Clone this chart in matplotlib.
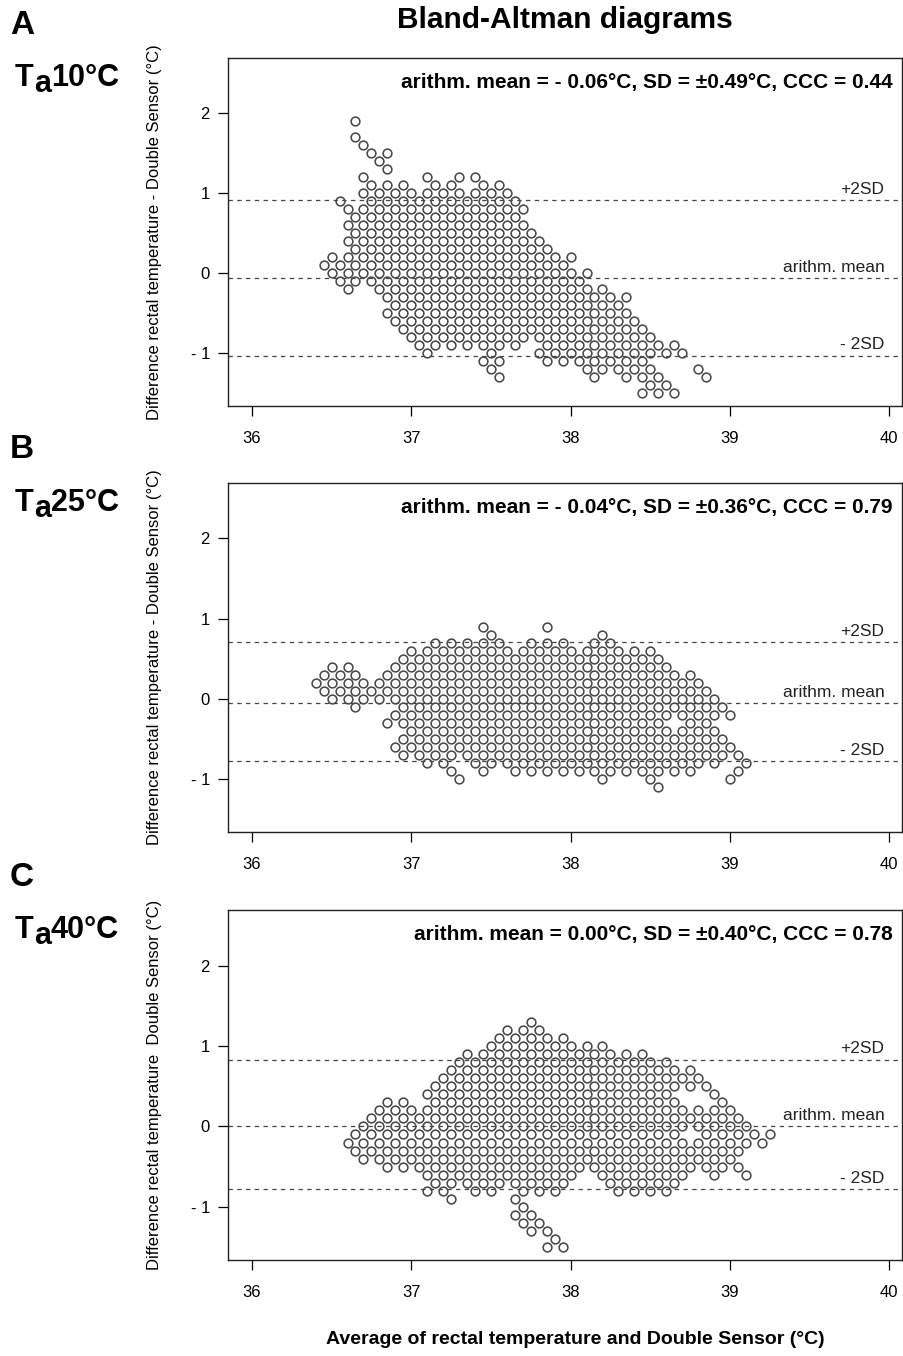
import matplotlib.pyplot as plt
import numpy as np

plt.rcParams['font.family'] = ['Liberation Sans', 'DejaVu Sans']

# Each row of a panel: one difference level (°C) and the runs of
# mean temperatures found on it, (first, last) in 0.1 °C steps.
a_levels = [1.9, 1.7, 1.6, 1.5, 1.4, 1.3, 1.2, 1.1, 1.0, 0.9, 0.8, 0.7, 0.6, 0.5,
            0.4, 0.3, 0.2, 0.1, 0.0, -0.1, -0.2, -0.3, -0.4, -0.5, -0.6, -0.7,
            -0.8, -0.9, -1.0, -1.1, -1.2, -1.3, -1.4, -1.5]
a_runs = [
    [(36.65, 36.65)], [(36.65, 36.65)], [(36.70, 36.70)], [(36.75, 36.85)],
    [(36.80, 36.80)], [(36.85, 36.85)],
    [(36.70, 36.70), (37.10, 37.10), (37.30, 37.40)],
    [(36.75, 36.95), (37.15, 37.25), (37.45, 37.55)],
    [(36.70, 37.60)], [(36.55, 36.55), (36.75, 37.65)],
    [(36.60, 37.70)], [(36.65, 37.65)], [(36.60, 37.70)], [(36.65, 37.75)],
    [(36.60, 37.80)], [(36.65, 37.85)], [(36.50, 38.00)], [(36.45, 37.95)],
    [(36.50, 38.10)], [(36.55, 38.05)], [(36.60, 36.60), (36.80, 38.20)],
    [(36.85, 38.35)], [(36.90, 38.30)], [(36.85, 38.35)], [(36.90, 38.40)],
    [(36.95, 38.45)], [(37.00, 38.50)], [(37.05, 37.65), (37.85, 38.65)],
    [(37.10, 37.10), (37.50, 37.50), (37.80, 38.70)],
    [(37.45, 37.55), (37.85, 38.45)],
    [(37.50, 37.50), (38.10, 38.50), (38.80, 38.80)],
    [(37.55, 37.55), (38.15, 38.15), (38.35, 38.55), (38.85, 38.85)],
    [(38.50, 38.60)], [(38.45, 38.65)],
]

b_levels = [0.9, 0.8, 0.7, 0.6, 0.5, 0.4, 0.3, 0.2, 0.1, 0.0, -0.1, -0.2, -0.3,
            -0.4, -0.5, -0.6, -0.7, -0.8, -0.9, -1.0, -1.1]
b_runs = [
    [(37.45, 37.45), (37.85, 37.85)],
    [(37.50, 37.50), (38.20, 38.20)],
    [(37.15, 37.55), (37.75, 37.95), (38.15, 38.25)],
    [(37.00, 38.50)], [(36.95, 38.55)],
    [(36.50, 36.60), (36.90, 38.60)],
    [(36.45, 36.65), (36.85, 38.75)],
    [(36.40, 38.80)], [(36.45, 38.85)], [(36.50, 38.90)],
    [(36.65, 36.65), (36.95, 38.95)],
    [(36.90, 39.00)], [(36.85, 38.55), (38.75, 38.85)],
    [(37.00, 38.90)], [(36.95, 38.95)], [(36.90, 39.00)], [(36.95, 39.05)],
    [(37.10, 37.20), (37.40, 38.90), (39.10, 39.10)],
    [(37.25, 37.25), (37.45, 37.45), (37.65, 37.75), (37.85, 38.45),
     (38.55, 38.75), (39.05, 39.05)],
    [(37.30, 37.30), (38.20, 38.20), (38.50, 38.50), (39.00, 39.00)],
    [(38.55, 38.55)],
]

c_levels = [1.3, 1.2, 1.1, 1.0, 0.9, 0.8, 0.7, 0.6, 0.5, 0.4, 0.3, 0.2, 0.1, 0.0,
            -0.1, -0.2, -0.3, -0.4, -0.5, -0.6, -0.7, -0.8, -0.9, -1.0, -1.1,
            -1.2, -1.3, -1.4, -1.5]
c_runs = [
    [(37.75, 37.75)], [(37.60, 37.80)], [(37.55, 37.95)], [(37.50, 38.20)],
    [(37.35, 38.45)], [(37.30, 38.60)], [(37.25, 38.75)], [(37.20, 38.80)],
    [(37.15, 38.85)], [(37.10, 38.60), (38.90, 38.90)],
    [(36.85, 36.95), (37.15, 38.65), (38.95, 38.95)],
    [(36.80, 39.00)], [(36.75, 39.05)], [(36.70, 39.10)],
    [(36.65, 38.65), (38.85, 39.25)],
    [(36.60, 39.20)], [(36.65, 39.05)], [(36.70, 39.00)], [(36.85, 39.05)],
    [(37.10, 38.00), (38.20, 38.70), (38.90, 38.90), (39.10, 39.10)],
    [(37.15, 37.95), (38.25, 38.65)],
    [(37.10, 37.20), (37.40, 37.50), (37.70, 37.90), (38.30, 38.60)],
    [(37.25, 37.25), (37.65, 37.65)],
    [(37.70, 37.70)], [(37.65, 37.75)], [(37.70, 37.80)], [(37.75, 37.85)],
    [(37.90, 37.90)], [(37.85, 37.95)],
]

# mean and mean +/- 2SD reference lines
a_lines = [0.91, -0.06, -1.03]
b_lines = [0.71, -0.05, -0.78]
c_lines = [0.83, 0.0, -0.78]
line_names = ['+2SD', 'arithm. mean', '- 2SD']

letters = ['A', 'B', 'C']
conditions = ['10°C', '25°C', '40°C']
stats = ['arithm. mean = - 0.06°C, SD = ±0.49°C, CCC = 0.44',
         'arithm. mean = - 0.04°C, SD = ±0.36°C, CCC = 0.79',
         'arithm. mean = 0.00°C, SD = ±0.40°C, CCC = 0.78']
ylabels = ['Difference rectal temperature - Double Sensor (°C)',
           'Difference rectal temperature - Double Sensor (°C)',
           'Difference rectal temperature  Double Sensor (°C)']
xticks = [36, 37, 38, 39, 40]
yticks = [-1, 0, 1, 2]
ytick_labels = ['- 1', '0', '1', '2']


def expand(levels, runs):
    xs, ys = [], []
    for lev, row in zip(levels, runs):
        for x0, x1 in row:
            n = int(round((x1 - x0) / 0.1)) + 1
            for i in range(n):
                xs.append(round(x0 + 0.1 * i, 2))
                ys.append(lev)
    return np.array(xs), np.array(ys)


W, H = 904, 1356
fig = plt.figure(figsize=(W / 100, H / 100), dpi=100)
rend = fig.canvas.get_renderer()

frames = [(58, 406), (483, 832), (910, 1260)]  # top/bottom of each frame in px
panels = [(a_levels, a_runs, a_lines), (b_levels, b_runs, b_lines),
          (c_levels, c_runs, c_lines)]

for i, (levels, runs, lines) in enumerate(panels):
    top, bot = frames[i]
    ax = fig.add_axes([228 / W, 1 - bot / H, 674 / W, (bot - top) / H])
    xs, ys = expand(levels, runs)
    ax.plot(xs, ys, 'o', ms=6.3, mfc='none', mec='#4a4a4a', mew=1.15, zorder=3)

    for y, name in zip(lines, line_names):
        ax.axhline(y, color='#444444', lw=0.9, ls=(0, (3.5, 3.5)), zorder=2)
        ax.text(39.97, y + 0.04, name, ha='right', va='bottom', fontsize=12.5,
                color='#222222')

    ax.text(0.986, 0.931, stats[i], transform=ax.transAxes, ha='right',
            va='center', fontsize=15, fontweight='bold')

    ax.set_xlim(35.85, 40.08)
    ax.set_ylim(-1.66, 2.69)
    ax.set_xticks(xticks)
    ax.set_yticks(yticks)
    ax.set_yticklabels(ytick_labels)
    ax.tick_params(direction='out', length=7, width=0.9, labelsize=12)
    ax.tick_params(axis='x', pad=11)
    ax.tick_params(axis='y', pad=6)
    for sp in ax.spines.values():
        sp.set_linewidth(1.0)
        sp.set_color('#222222')
    ax.set_ylabel(ylabels[i], fontsize=12)
    ax.yaxis.set_label_coords(-0.098, 0.5)

    # panel letter and "Ta" condition label (lowered a)
    ytxt = top - 33
    fig.text(22 / W, 1 - ytxt / H, letters[i], fontsize=24, fontweight='bold',
             ha='center', va='center')
    base = ytxt + 61
    t1 = fig.text(15 / W, 1 - base / H, 'T', fontsize=22, fontweight='bold',
                  va='baseline')
    x1 = t1.get_window_extent(rend).x1
    t2 = fig.text(x1 / W, 1 - (base + 6) / H, 'a', fontsize=22,
                  fontweight='bold', va='baseline')
    x2 = t2.get_window_extent(rend).x1
    fig.text(x2 / W, 1 - base / H, conditions[i], fontsize=22,
             fontweight='bold', va='baseline')

fig.text(565 / W, 1 - 20 / H, 'Bland-Altman diagrams', fontsize=21.5,
         fontweight='bold', ha='center', va='center')
fig.text(575 / W, 1 - 1340 / H,
         'Average of rectal temperature and Double Sensor (°C)',
         fontsize=14, fontweight='bold', ha='center', va='center')

fig.savefig('out.png', dpi=100)
